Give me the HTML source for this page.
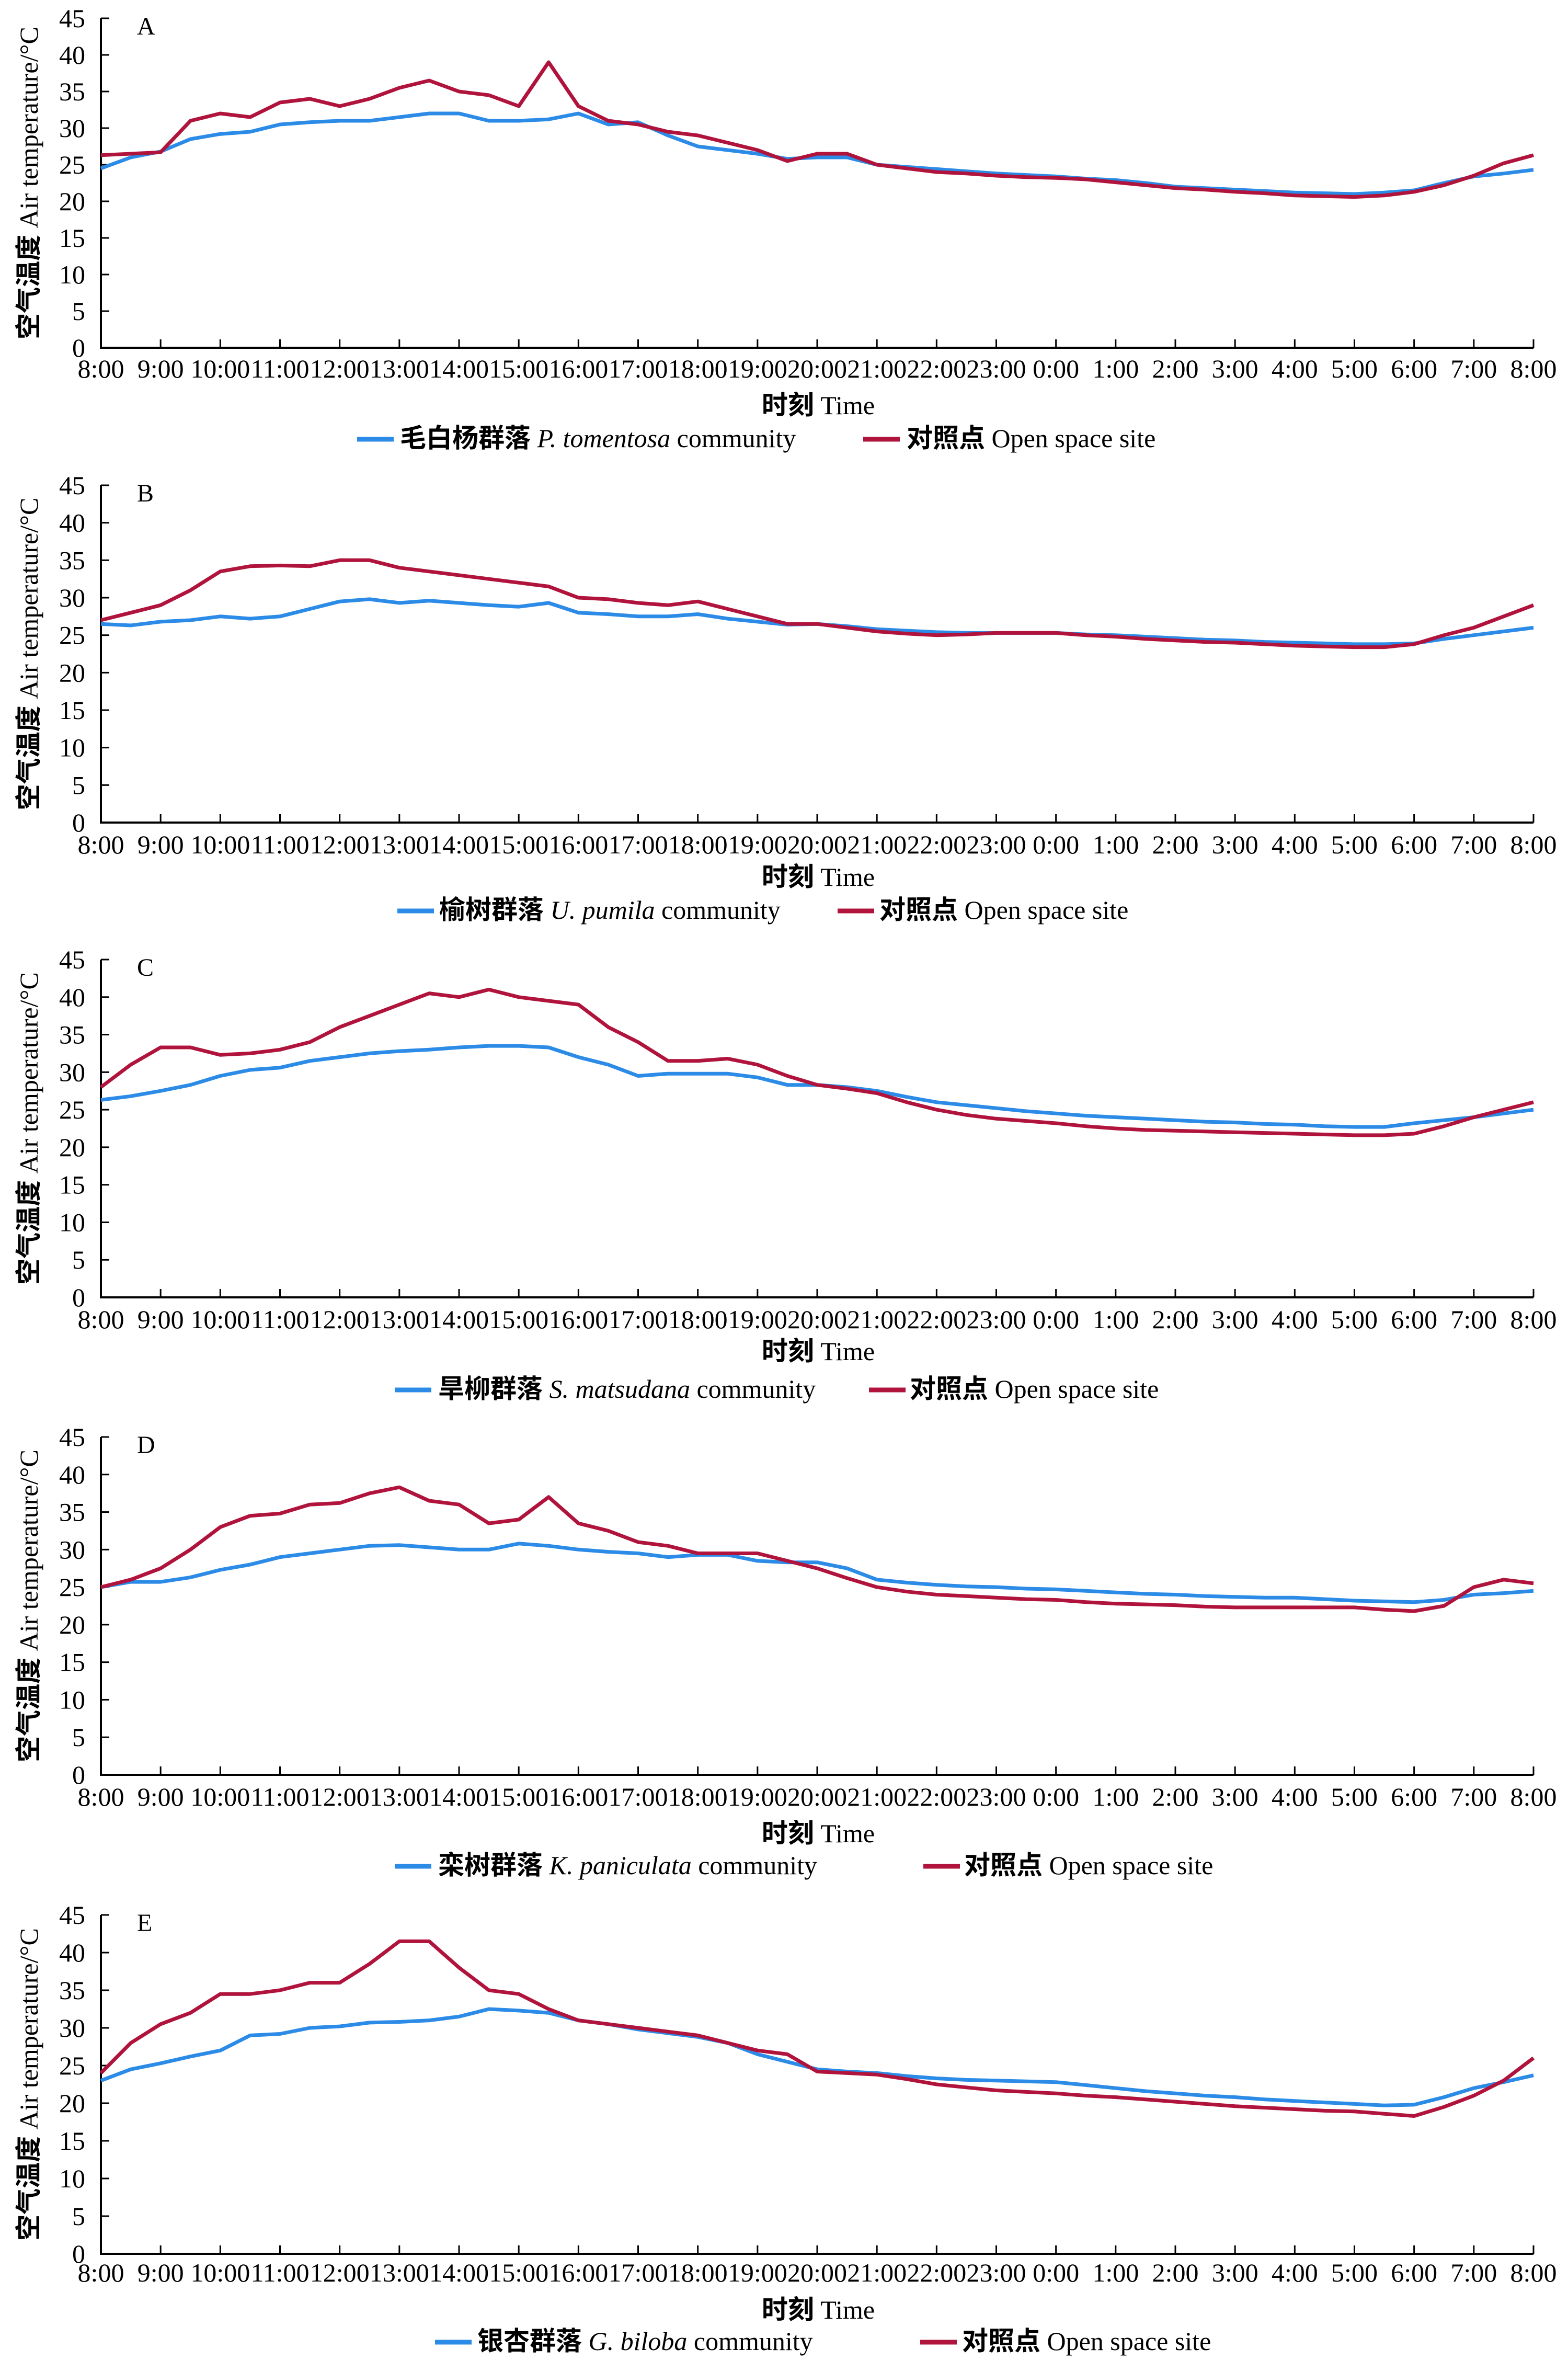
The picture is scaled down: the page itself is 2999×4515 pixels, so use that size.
<!DOCTYPE html>
<html><head><meta charset="utf-8">
<style>
html,body{margin:0;padding:0;background:#fff;}
svg{display:block;}
text{font-family:"Liberation Serif","Noto Serif CJK SC",serif;fill:#000;}
.cjk{font-family:"Noto Sans CJK SC","Liberation Sans",sans-serif;font-weight:bold;}
</style></head>
<body>
<svg id="chart" width="2999" height="4515" viewBox="0 0 2999 4515" xmlns="http://www.w3.org/2000/svg"></svg>
<script>
const hours = [0,0.5,1,1.5,2,2.5,3,3.5,4,4.5,5,5.5,6,6.5,7,7.5,8,8.5,9,9.5,10,10.5,11,11.5,12,12.5,13,13.5,14,14.5,15,15.5,16,16.5,17,17.5,18,18.5,19,19.5,20,20.5,21,21.5,22,22.5,23,23.5,24];
const xTickLabels = ["8:00","9:00","10:00","11:00","12:00","13:00","14:00","15:00","16:00","17:00","18:00","19:00","20:00","21:00","22:00","23:00","0:00","1:00","2:00","3:00","4:00","5:00","6:00","7:00","8:00"];
const yTicks = [0,5,10,15,20,25,30,35,40,45];
const panelLetters = ["A","B","C","D","E"];
const communityCN = ["毛白杨群落","榆树群落","旱柳群落","栾树群落","银杏群落"];
const communityLatin = ["P. tomentosa","U. pumila","S. matsudana","K. paniculata","G. biloba"];

const commA = [24.5,26,26.8,28.5,29.2,29.5,30.5,30.8,31,31,31.5,32,32,31,31,31.2,32,30.5,30.8,29,27.5,27,26.5,25.8,26,26,25,24.7,24.4,24.1,23.8,23.6,23.4,23.1,22.9,22.5,22,21.8,21.6,21.4,21.2,21.1,21,21.2,21.5,22.5,23.4,23.8,24.3];
const openA = [26.3,26.5,26.7,31,32,31.5,33.5,34,33,34,35.5,36.5,35,34.5,33,39,33,31,30.5,29.5,29,28,27,25.5,26.5,26.5,25,24.5,24,23.8,23.5,23.3,23.2,23,22.6,22.2,21.8,21.6,21.3,21.1,20.8,20.7,20.6,20.8,21.3,22.2,23.5,25.2,26.3];
const commB = [26.5,26.3,26.8,27,27.5,27.2,27.5,28.5,29.5,29.8,29.3,29.6,29.3,29,28.8,29.3,28,27.8,27.5,27.5,27.8,27.2,26.8,26.4,26.5,26.2,25.8,25.6,25.4,25.3,25.3,25.3,25.3,25.1,25,24.8,24.6,24.4,24.3,24.1,24,23.9,23.8,23.8,23.9,24.5,25,25.5,26];
const openB = [27,28,29,31,33.5,34.2,34.3,34.2,35,35,34,33.5,33,32.5,32,31.5,30,29.8,29.3,29,29.5,28.5,27.5,26.5,26.5,26,25.5,25.2,25,25.1,25.3,25.3,25.3,25,24.8,24.5,24.3,24.1,24,23.8,23.6,23.5,23.4,23.4,23.8,25,26,27.5,29];
const commC = [26.3,26.8,27.5,28.3,29.5,30.3,30.6,31.5,32,32.5,32.8,33,33.3,33.5,33.5,33.3,32,31,29.5,29.8,29.8,29.8,29.3,28.3,28.3,28,27.5,26.7,26,25.6,25.2,24.8,24.5,24.2,24,23.8,23.6,23.4,23.3,23.1,23,22.8,22.7,22.7,23.2,23.6,24,24.5,25];
const openC = [28,31,33.3,33.3,32.3,32.5,33,34,36,37.5,39,40.5,40,41,40,39.5,39,36,34,31.5,31.5,31.8,31,29.5,28.3,27.8,27.2,26,25,24.3,23.8,23.5,23.2,22.8,22.5,22.3,22.2,22.1,22,21.9,21.8,21.7,21.6,21.6,21.8,22.8,24,25,26];
const commD = [25,25.7,25.7,26.3,27.3,28,29,29.5,30,30.5,30.6,30.3,30,30,30.8,30.5,30,29.7,29.5,29,29.3,29.3,28.5,28.3,28.3,27.5,26,25.6,25.3,25.1,25,24.8,24.7,24.5,24.3,24.1,24,23.8,23.7,23.6,23.6,23.4,23.2,23.1,23,23.3,24,24.2,24.5];
const openD = [25,26,27.5,30,33,34.5,34.8,36,36.2,37.5,38.3,36.5,36,33.5,34,37,33.5,32.5,31,30.5,29.5,29.5,29.5,28.5,27.5,26.2,25,24.4,24,23.8,23.6,23.4,23.3,23,22.8,22.7,22.6,22.4,22.3,22.3,22.3,22.3,22.3,22,21.8,22.5,25,26,25.5];
const commE = [23,24.5,25.3,26.2,27,29,29.2,30,30.2,30.7,30.8,31,31.5,32.5,32.3,32,31,30.5,29.8,29.3,28.8,28,26.5,25.5,24.5,24.2,24,23.6,23.3,23.1,23,22.9,22.8,22.4,22,21.6,21.3,21,20.8,20.5,20.3,20.1,19.9,19.7,19.8,20.8,22,22.8,23.7];
const openE = [24,28,30.5,32,34.5,34.5,35,36,36,38.5,41.5,41.5,38,35,34.5,32.5,31,30.5,30,29.5,29,28,27,26.5,24.2,24,23.8,23.2,22.5,22.1,21.7,21.5,21.3,21,20.8,20.5,20.2,19.9,19.6,19.4,19.2,19,18.9,18.6,18.3,19.5,21,23,26];

const commSeries = [commA,commB,commC,commD,commE];
const openSeries = [openA,openB,openC,openD,openE];

const NS = "http://www.w3.org/2000/svg";
const svg = document.getElementById("chart");
const X0 = 193, X1 = 2933;
const layout = [
  {top:35,  bot:665,  tick:722,  time:792,  leg:855,  b0:683, bt:765, r0:1651, rt:1734},
  {top:928, bot:1573, tick:1632, time:1694, leg:1757, b0:760, bt:840, r0:1602, rt:1682},
  {top:1835,bot:2481, tick:2540, time:2601, leg:2673, b0:755, bt:838, r0:1662, rt:1740},
  {top:2748,bot:3394, tick:3453, time:3523, leg:3584, b0:755, bt:838, r0:1766, rt:1844},
  {top:3662,bot:4310, tick:4363, time:4434, leg:4494, b0:832, bt:913, r0:1760, rt:1840}
];
function mk(tag, attrs, parent){
  const e = document.createElementNS(NS, tag);
  for (const k in attrs) e.setAttribute(k, attrs[k]);
  (parent||svg).appendChild(e);
  return e;
}
layout.forEach((L, p) => {
  const g = mk("g", {});
  
  
  const xs = h => X0 + (X1 - X0) * h / 24;
  const ys = v => L.bot - (L.bot - L.top) * v / 45;
  const ya = mk("line", {x1:X0, y1:L.top, x2:X0, y2:L.bot+2, stroke:"#000", "stroke-width":4}, g);
  
  
  const xa = mk("line", {x1:X0-2, y1:L.bot, x2:X1, y2:L.bot, stroke:"#000", "stroke-width":4}, g);
  
  
  yTicks.forEach(v => {
    mk("line", {x1:X0, y1:ys(v), x2:X0+16, y2:ys(v), stroke:"#000", "stroke-width":3}, g);
    const t = mk("text", {x:163, y:ys(v)+17, "text-anchor":"end", "font-size":50}, g);
    t.textContent = v;
    
    
  });
  xTickLabels.forEach((lab, i) => {
    const x = xs(i);
    mk("line", {x1:x, y1:L.bot, x2:x, y2:L.bot-16, stroke:"#000", "stroke-width":3}, g);
    const t = mk("text", {x:x, y:L.tick, "text-anchor":"middle", "font-size":50}, g);
    t.textContent = lab;
    
    
  });
  const letter = mk("text", {x:262, y:L.top+31, "font-size":48}, g);
  letter.textContent = panelLetters[p];
  
  
  const cy = (L.top + L.bot) / 2;
  const yt = mk("text", {x:0, y:0, "text-anchor":"middle", "font-size":50, transform:`translate(72,${cy}) rotate(-90)`}, g);
  yt.innerHTML = '<tspan class="cjk">空气温度</tspan> Air temperature/°C';
  
  
  const xt = mk("text", {x:1565, y:L.time, "text-anchor":"middle", "font-size":50}, g);
  xt.innerHTML = '<tspan class="cjk">时刻</tspan> Time';
  
  
  const mkPath = arr => arr.map((v,i) => (i?"L":"M") + xs(hours[i]).toFixed(1) + "," + ys(v).toFixed(1)).join(" ");
  const lc = mk("path", {d:mkPath(commSeries[p]), fill:"none", stroke:"#2b8be6", "stroke-width":7, "stroke-linejoin":"round"}, g);
  
  
  const lo = mk("path", {d:mkPath(openSeries[p]), fill:"none", stroke:"#b0143c", "stroke-width":7, "stroke-linejoin":"round"}, g);
  
  
  const l1 = mk("line", {x1:L.b0, y1:L.leg-15, x2:L.b0+70, y2:L.leg-15, stroke:"#2b8be6", "stroke-width":9}, g);
  
  
  const t1 = mk("text", {x:L.bt, y:L.leg, "font-size":50}, g);
  t1.innerHTML = '<tspan class="cjk">' + communityCN[p] + '</tspan> <tspan font-style="italic">' + communityLatin[p] + '</tspan> community';
  
  
  const l2 = mk("line", {x1:L.r0, y1:L.leg-15, x2:L.r0+70, y2:L.leg-15, stroke:"#b0143c", "stroke-width":9}, g);
  
  
  const t2 = mk("text", {x:L.rt, y:L.leg, "font-size":50}, g);
  t2.innerHTML = '<tspan class="cjk">对照点</tspan> Open space site';
  
  
});
</script>
</body></html>
